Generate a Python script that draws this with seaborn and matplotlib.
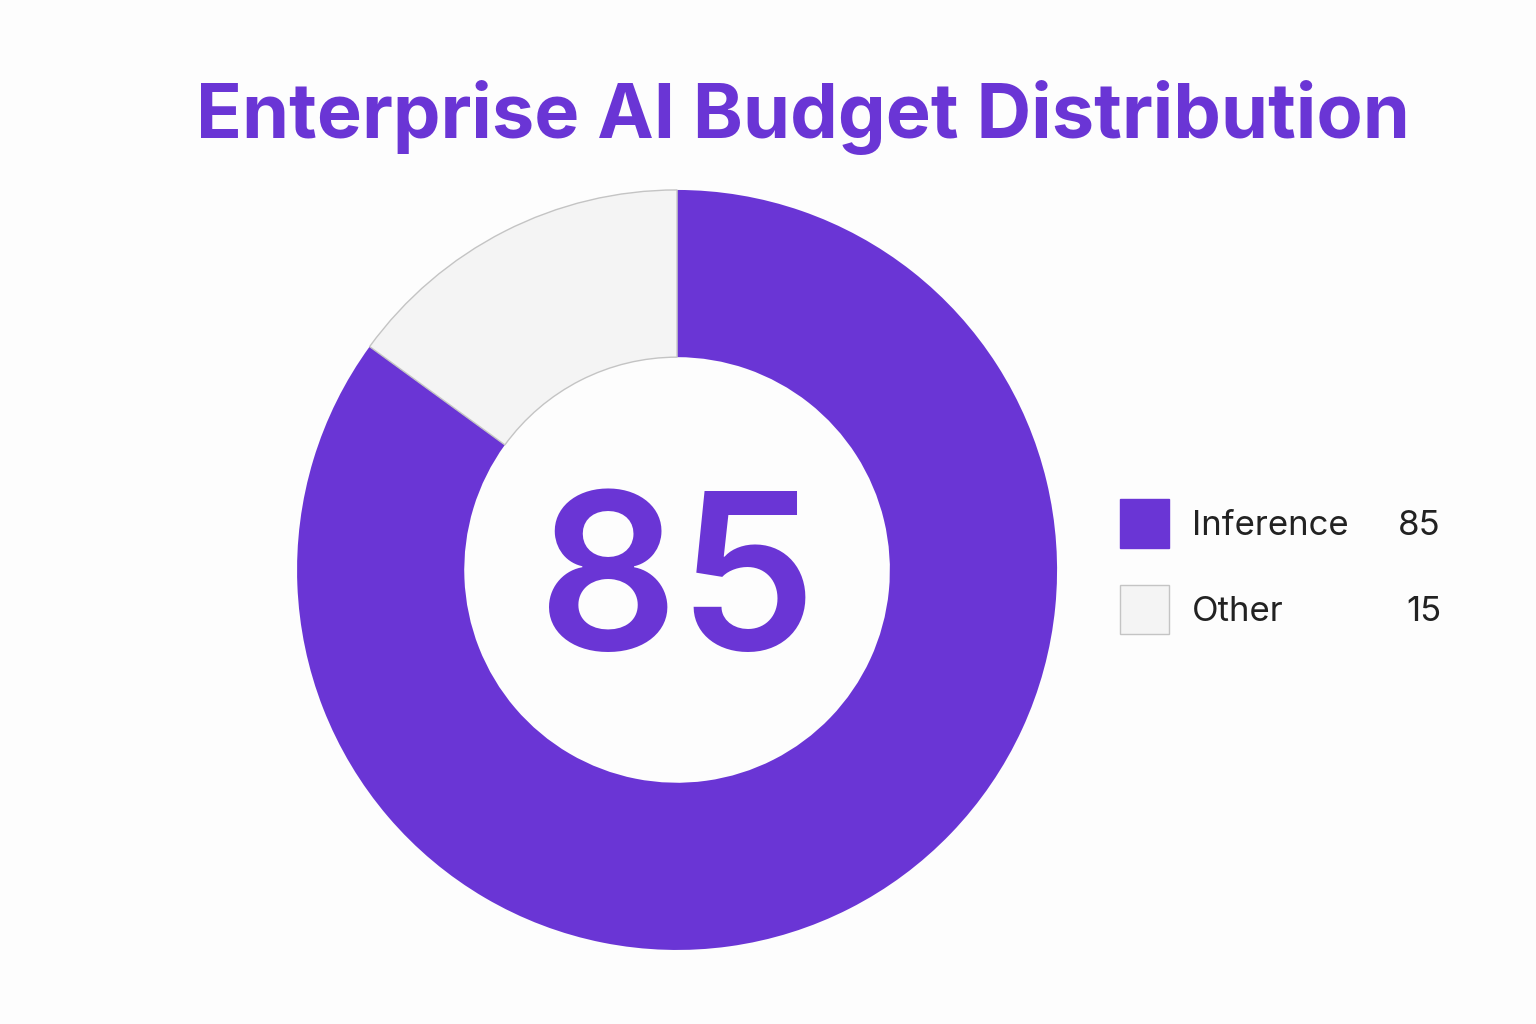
import seaborn as sns
import matplotlib.pyplot as plt
from matplotlib.patches import Rectangle

labels = ["Inference", "Other"]
values = [85, 15]
colors = ["#6A35D5", "#F4F4F4"]
edge_colors = ["#6A35D5", "#C4C4C4"]
title = "Enterprise AI Budget Distribution"

sns.set_theme(style="white")
plt.rcParams['font.family'] = ['Inter', 'DejaVu Sans']

fig = plt.figure(figsize=(15.36, 10.24), dpi=100, facecolor="#FDFDFD")

# donut axes (square, centred at ~677,570 px)
ax = fig.add_axes([0.1934, 0.0723, 0.4948, 0.7422])
ax.set_facecolor("none")
wedges, _ = ax.pie(values, colors=colors, startangle=90, counterclock=False,
                   radius=1.0, wedgeprops=dict(width=0.44, linewidth=1.0))
for w, ec in zip(wedges, edge_colors):
    w.set_edgecolor(ec)
wedges[0].set_linewidth(0)
ax.set_xlim(-1, 1)
ax.set_ylim(-1, 1)
ax.set_aspect("equal")
ax.axis("off")

ax.text(0, -0.06, str(values[0]), ha="center", va="center",
        fontsize=158, fontweight="semibold", color=colors[0])

fig.text(0.523, 0.885, title, ha="center", va="center",
         fontsize=54.5, fontweight="bold", color="#6A35D5")

# legend
row_y = [526, 612]
for lab, val, c, ec, y in zip(labels, values, colors, edge_colors, row_y):
    yf = 1 - y / 1024
    fig.add_artist(Rectangle((1120 / 1536, 1 - (y - 3 + 24.5) / 1024), 49 / 1536, 49 / 1024,
                             transform=fig.transFigure, facecolor=c,
                             edgecolor=ec, linewidth=1.0))
    fig.text(1192 / 1536, yf, lab, ha="left", va="center",
             fontsize=25, color="#222222")
    fig.text(1441 / 1536, yf, str(val), ha="right", va="center",
             fontsize=25, color="#222222")

fig.savefig("out.png", dpi=100, facecolor=fig.get_facecolor())
